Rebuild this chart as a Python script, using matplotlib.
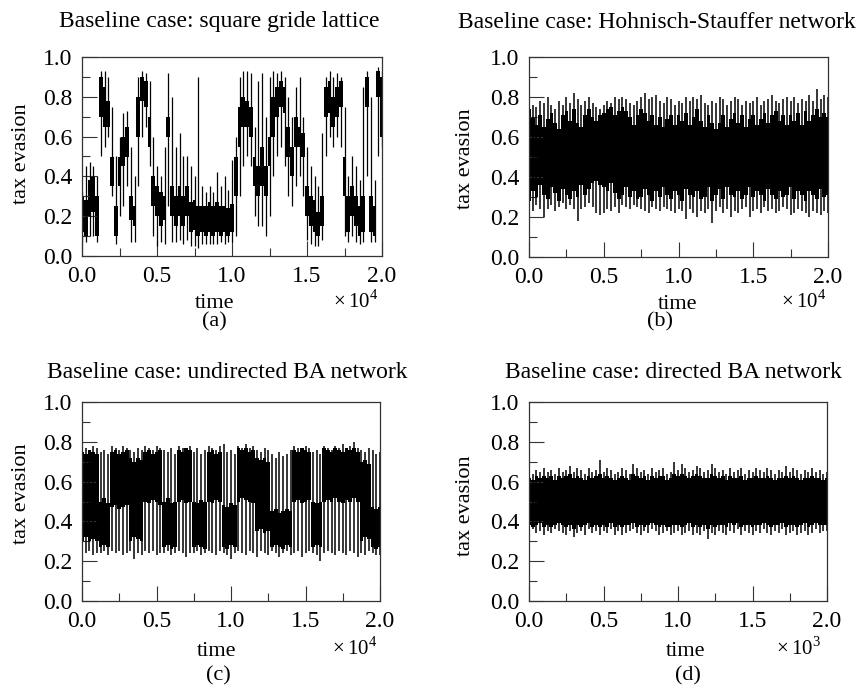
import numpy as np
import matplotlib
matplotlib.use('Agg')
import matplotlib.pyplot as plt

matplotlib.rcParams['font.family'] = 'Liberation Serif'
matplotlib.rcParams['mathtext.fontset'] = 'custom'
matplotlib.rcParams['mathtext.rm'] = 'Liberation Serif'

# sample times (every 250 steps for a-c, every 25 steps for d)
t_long = np.arange(0, 20001, 250)
t_short = np.arange(0, 2001, 25)

# (a) square grid lattice: dense band and extreme strokes
a_core_lo = [0.12, 0.10, 0.20, 0.22, 0.10, 0.70, 0.65, 0.65, 0.35, 0.10,
             0.35, 0.45, 0.50, 0.18, 0.15, 0.60, 0.78, 0.75, 0.55, 0.25,
             0.20, 0.15, 0.18, 0.60, 0.20, 0.15, 0.20, 0.15, 0.20, 0.12,
             0.13, 0.10, 0.12, 0.10, 0.12, 0.10, 0.12, 0.10, 0.12, 0.10,
             0.12, 0.30, 0.55, 0.65, 0.65, 0.60, 0.35, 0.30, 0.35, 0.30,
             0.45, 0.60, 0.70, 0.75, 0.72, 0.50, 0.40, 0.55, 0.55, 0.50,
             0.20, 0.15, 0.12, 0.10, 0.15, 0.70, 0.72, 0.65, 0.70, 0.75,
             0.30, 0.12, 0.20, 0.15, 0.10, 0.12, 0.75, 0.12, 0.10, 0.80,
             0.60]
a_core_hi = [0.30, 0.28, 0.38, 0.40, 0.30, 0.90, 0.85, 0.78, 0.50, 0.25,
             0.50, 0.60, 0.65, 0.30, 0.25, 0.80, 0.90, 0.88, 0.70, 0.40,
             0.35, 0.32, 0.30, 0.70, 0.35, 0.30, 0.35, 0.30, 0.35, 0.27,
             0.28, 0.25, 0.25, 0.25, 0.27, 0.25, 0.27, 0.25, 0.25, 0.24,
             0.26, 0.50, 0.75, 0.80, 0.78, 0.75, 0.50, 0.45, 0.55, 0.45,
             0.60, 0.80, 0.85, 0.88, 0.85, 0.65, 0.55, 0.70, 0.65, 0.62,
             0.35, 0.30, 0.28, 0.22, 0.30, 0.85, 0.88, 0.80, 0.85, 0.88,
             0.50, 0.30, 0.35, 0.30, 0.25, 0.30, 0.90, 0.30, 0.25, 0.93,
             0.90]
a_lo = [0.07, 0.07, 0.10, 0.10, 0.07, 0.50, 0.55, 0.60, 0.30, 0.06,
        0.20, 0.25, 0.35, 0.07, 0.07, 0.35, 0.60, 0.65, 0.45, 0.10,
        0.05, 0.07, 0.06, 0.25, 0.07, 0.07, 0.08, 0.06, 0.08, 0.05,
        0.05, 0.04, 0.06, 0.06, 0.06, 0.06, 0.06, 0.07, 0.06, 0.07,
        0.07, 0.10, 0.30, 0.45, 0.50, 0.45, 0.20, 0.15, 0.15, 0.10,
        0.20, 0.40, 0.50, 0.55, 0.45, 0.30, 0.25, 0.35, 0.40, 0.30,
        0.08, 0.06, 0.05, 0.05, 0.08, 0.50, 0.60, 0.55, 0.60, 0.55,
        0.10, 0.07, 0.10, 0.07, 0.06, 0.07, 0.40, 0.07, 0.07, 0.50,
        0.55]
a_hi = [0.32, 0.45, 0.47, 0.45, 0.40, 0.93, 0.93, 0.90, 0.75, 0.50,
        0.60, 0.72, 0.73, 0.55, 0.40, 0.90, 0.93, 0.92, 0.88, 0.60,
        0.45, 0.40, 0.55, 0.92, 0.80, 0.55, 0.62, 0.50, 0.50, 0.45,
        0.40, 0.90, 0.35, 0.32, 0.35, 0.32, 0.42, 0.35, 0.40, 0.33,
        0.48, 0.60, 0.90, 0.93, 0.93, 0.92, 0.65, 0.88, 0.92, 0.70,
        0.90, 0.93, 0.92, 0.93, 0.90, 0.80, 0.70, 0.85, 0.90, 0.70,
        0.55, 0.45, 0.40, 0.35, 0.62, 0.90, 0.93, 0.90, 0.92, 0.90,
        0.75, 0.40, 0.50, 0.45, 0.38, 0.85, 0.93, 0.80, 0.38, 0.95,
        0.93]

# (b) Hohnisch-Stauffer network
b_core_lo = [0.28, 0.33, 0.30, 0.36, 0.31, 0.29, 0.35, 0.32, 0.28, 0.34,
             0.31, 0.29, 0.33, 0.30, 0.36, 0.31, 0.34, 0.37, 0.38, 0.36,
             0.35, 0.33, 0.37, 0.32, 0.29, 0.31, 0.35, 0.30, 0.33, 0.29,
             0.30, 0.34, 0.31, 0.28, 0.33, 0.30, 0.35, 0.31, 0.29, 0.33,
             0.31, 0.28, 0.34, 0.31, 0.30, 0.33, 0.29, 0.30, 0.35, 0.28,
             0.31, 0.34, 0.29, 0.35, 0.31, 0.30, 0.33, 0.29, 0.31, 0.35,
             0.30, 0.33, 0.31, 0.28, 0.34, 0.31, 0.29, 0.33, 0.30, 0.31,
             0.35, 0.29, 0.33, 0.31, 0.28, 0.33, 0.31, 0.29, 0.34, 0.30,
             0.31]
b_core_hi = [0.74, 0.70, 0.66, 0.71, 0.65, 0.69, 0.72, 0.67, 0.64, 0.71,
             0.73, 0.68, 0.74, 0.67, 0.65, 0.71, 0.74, 0.70, 0.68, 0.71,
             0.72, 0.74, 0.75, 0.71, 0.73, 0.75, 0.73, 0.70, 0.66, 0.71,
             0.74, 0.72, 0.68, 0.71, 0.66, 0.70, 0.65, 0.69, 0.71, 0.66,
             0.71, 0.68, 0.72, 0.66, 0.70, 0.74, 0.68, 0.65, 0.71, 0.67,
             0.64, 0.67, 0.71, 0.65, 0.69, 0.72, 0.67, 0.71, 0.65, 0.69,
             0.71, 0.66, 0.69, 0.72, 0.67, 0.71, 0.73, 0.68, 0.71, 0.66,
             0.71, 0.68, 0.72, 0.66, 0.73, 0.68, 0.71, 0.74, 0.70, 0.72,
             0.70]
b_lo = [0.25, 0.23, 0.26, 0.24, 0.20, 0.24, 0.26, 0.23, 0.25, 0.27,
        0.24, 0.26, 0.24, 0.18, 0.24, 0.25, 0.27, 0.25, 0.22, 0.21,
        0.22, 0.24, 0.23, 0.25, 0.22, 0.26, 0.25, 0.24, 0.26, 0.25,
        0.24, 0.23, 0.22, 0.25, 0.24, 0.23, 0.25, 0.24, 0.23, 0.22,
        0.24, 0.23, 0.19, 0.24, 0.22, 0.20, 0.23, 0.22, 0.24, 0.17,
        0.23, 0.25, 0.22, 0.24, 0.20, 0.23, 0.22, 0.24, 0.25, 0.20,
        0.23, 0.24, 0.22, 0.25, 0.23, 0.24, 0.22, 0.23, 0.25, 0.24,
        0.21, 0.22, 0.24, 0.23, 0.22, 0.20, 0.23, 0.22, 0.21, 0.23,
        0.22]
b_hi = [0.78, 0.76, 0.75, 0.78, 0.77, 0.80, 0.76, 0.74, 0.78, 0.76,
        0.80, 0.77, 0.82, 0.79, 0.76, 0.78, 0.80, 0.77, 0.75, 0.74,
        0.76, 0.78, 0.77, 0.80, 0.79, 0.80, 0.79, 0.77, 0.76, 0.78,
        0.80, 0.82, 0.79, 0.80, 0.81, 0.78, 0.77, 0.80, 0.79, 0.76,
        0.78, 0.77, 0.80, 0.78, 0.80, 0.79, 0.81, 0.77, 0.76, 0.78,
        0.77, 0.80, 0.79, 0.76, 0.78, 0.80, 0.79, 0.76, 0.78, 0.77,
        0.78, 0.80, 0.76, 0.78, 0.79, 0.81, 0.78, 0.77, 0.79, 0.80,
        0.78, 0.80, 0.77, 0.79, 0.78, 0.81, 0.78, 0.84, 0.79, 0.81,
        0.80]

# (c) undirected BA network: switching between a high and a low band
c_core_lo = [0.30, 0.32, 0.30, 0.31, 0.30, 0.27, 0.28, 0.27, 0.47, 0.48,
             0.46, 0.47, 0.48, 0.30, 0.32, 0.31, 0.30, 0.50, 0.49, 0.51,
             0.50, 0.48, 0.27, 0.28, 0.26, 0.27, 0.50, 0.51, 0.49, 0.50,
             0.27, 0.28, 0.27, 0.26, 0.50, 0.49, 0.51, 0.50, 0.27, 0.26,
             0.28, 0.27, 0.50, 0.52, 0.51, 0.50, 0.49, 0.35, 0.36, 0.34,
             0.35, 0.27, 0.28, 0.27, 0.26, 0.28, 0.27, 0.50, 0.51, 0.49,
             0.50, 0.51, 0.27, 0.28, 0.27, 0.50, 0.51, 0.50, 0.52, 0.50,
             0.49, 0.51, 0.50, 0.52, 0.50, 0.30, 0.32, 0.31, 0.27, 0.26,
             0.27]
c_core_hi = [0.75, 0.74, 0.76, 0.75, 0.74, 0.50, 0.52, 0.49, 0.75, 0.76,
             0.74, 0.75, 0.76, 0.72, 0.70, 0.72, 0.71, 0.75, 0.76, 0.74,
             0.75, 0.76, 0.50, 0.52, 0.49, 0.50, 0.76, 0.75, 0.77, 0.76,
             0.50, 0.49, 0.51, 0.50, 0.75, 0.76, 0.74, 0.75, 0.48, 0.47,
             0.49, 0.48, 0.77, 0.76, 0.77, 0.75, 0.76, 0.72, 0.71, 0.72,
             0.70, 0.45, 0.46, 0.44, 0.45, 0.46, 0.45, 0.76, 0.75, 0.77,
             0.76, 0.75, 0.50, 0.49, 0.50, 0.77, 0.76, 0.75, 0.77, 0.76,
             0.75, 0.77, 0.76, 0.77, 0.75, 0.70, 0.71, 0.69, 0.47, 0.46,
             0.47]
c_lo = [0.22, 0.24, 0.25, 0.23, 0.24, 0.24, 0.25, 0.23, 0.25, 0.24,
        0.25, 0.23, 0.24, 0.25, 0.21, 0.24, 0.23, 0.25, 0.24, 0.25,
        0.23, 0.24, 0.24, 0.25, 0.23, 0.24, 0.25, 0.24, 0.22, 0.24,
        0.24, 0.25, 0.23, 0.24, 0.25, 0.24, 0.23, 0.25, 0.24, 0.23,
        0.21, 0.24, 0.25, 0.24, 0.23, 0.25, 0.24, 0.22, 0.25, 0.24,
        0.23, 0.25, 0.24, 0.22, 0.24, 0.25, 0.23, 0.24, 0.25, 0.22,
        0.24, 0.25, 0.24, 0.23, 0.20, 0.24, 0.25, 0.24, 0.23, 0.25,
        0.24, 0.23, 0.25, 0.24, 0.22, 0.24, 0.23, 0.25, 0.24, 0.23,
        0.23]
c_hi = [0.78, 0.77, 0.76, 0.78, 0.77, 0.75, 0.76, 0.74, 0.78, 0.77,
        0.76, 0.78, 0.77, 0.76, 0.75, 0.77, 0.76, 0.78, 0.77, 0.76,
        0.78, 0.77, 0.76, 0.75, 0.77, 0.74, 0.78, 0.77, 0.76, 0.78,
        0.75, 0.77, 0.74, 0.76, 0.78, 0.77, 0.76, 0.78, 0.79, 0.75,
        0.76, 0.74, 0.78, 0.77, 0.79, 0.77, 0.78, 0.76, 0.75, 0.77,
        0.76, 0.74, 0.72, 0.75, 0.73, 0.74, 0.76, 0.78, 0.77, 0.76,
        0.78, 0.77, 0.75, 0.76, 0.74, 0.78, 0.77, 0.76, 0.78, 0.77,
        0.79, 0.77, 0.78, 0.80, 0.77, 0.76, 0.75, 0.77, 0.76, 0.74,
        0.75]

# (d) directed BA network (time in units of 1e3)
d_core_lo = [0.38, 0.37, 0.38, 0.39, 0.37, 0.38, 0.37, 0.38, 0.39, 0.38,
             0.37, 0.38, 0.36, 0.38, 0.37, 0.38, 0.39, 0.37, 0.38, 0.37,
             0.38, 0.37, 0.39, 0.37, 0.38, 0.37, 0.38, 0.38, 0.39, 0.37,
             0.38, 0.37, 0.38, 0.39, 0.38, 0.37, 0.38, 0.37, 0.37, 0.38,
             0.38, 0.37, 0.38, 0.39, 0.37, 0.38, 0.37, 0.38, 0.36, 0.38,
             0.37, 0.38, 0.38, 0.37, 0.39, 0.38, 0.39, 0.37, 0.38, 0.38,
             0.37, 0.38, 0.38, 0.39, 0.38, 0.37, 0.38, 0.38, 0.39, 0.37,
             0.38, 0.38, 0.37, 0.38, 0.39, 0.37, 0.38, 0.39, 0.38, 0.38,
             0.38]
d_core_hi = [0.62, 0.61, 0.63, 0.62, 0.63, 0.62, 0.63, 0.61, 0.63, 0.62,
             0.63, 0.64, 0.62, 0.63, 0.62, 0.61, 0.63, 0.62, 0.63, 0.64,
             0.62, 0.63, 0.62, 0.61, 0.62, 0.63, 0.62, 0.61, 0.64, 0.63,
             0.62, 0.63, 0.61, 0.63, 0.62, 0.63, 0.63, 0.61, 0.62, 0.64,
             0.63, 0.64, 0.63, 0.62, 0.63, 0.64, 0.63, 0.62, 0.62, 0.64,
             0.63, 0.62, 0.63, 0.61, 0.63, 0.62, 0.62, 0.63, 0.61, 0.62,
             0.62, 0.63, 0.62, 0.62, 0.63, 0.62, 0.61, 0.62, 0.62, 0.63,
             0.62, 0.63, 0.62, 0.61, 0.62, 0.62, 0.63, 0.62, 0.62, 0.61,
             0.62]
d_lo = [0.35, 0.36, 0.34, 0.35, 0.33, 0.35, 0.34, 0.36, 0.35, 0.34,
        0.33, 0.35, 0.32, 0.34, 0.35, 0.33, 0.36, 0.34, 0.35, 0.33,
        0.35, 0.34, 0.36, 0.33, 0.35, 0.33, 0.34, 0.35, 0.36, 0.34,
        0.33, 0.35, 0.34, 0.36, 0.35, 0.33, 0.34, 0.35, 0.33, 0.34,
        0.35, 0.33, 0.34, 0.35, 0.33, 0.34, 0.33, 0.35, 0.31, 0.34,
        0.33, 0.35, 0.34, 0.33, 0.35, 0.34, 0.36, 0.33, 0.35, 0.34,
        0.33, 0.35, 0.34, 0.36, 0.34, 0.33, 0.35, 0.34, 0.36, 0.33,
        0.34, 0.35, 0.33, 0.34, 0.35, 0.33, 0.34, 0.36, 0.34, 0.35,
        0.35]
d_hi = [0.65, 0.64, 0.66, 0.65, 0.67, 0.65, 0.66, 0.64, 0.67, 0.65,
        0.66, 0.68, 0.65, 0.67, 0.66, 0.64, 0.67, 0.65, 0.66, 0.71,
        0.65, 0.67, 0.66, 0.64, 0.65, 0.67, 0.66, 0.64, 0.69, 0.67,
        0.65, 0.66, 0.64, 0.67, 0.65, 0.66, 0.67, 0.64, 0.65, 0.70,
        0.66, 0.69, 0.67, 0.65, 0.66, 0.68, 0.67, 0.65, 0.66, 0.69,
        0.67, 0.65, 0.66, 0.64, 0.67, 0.65, 0.66, 0.67, 0.64, 0.66,
        0.65, 0.67, 0.66, 0.65, 0.67, 0.66, 0.64, 0.66, 0.65, 0.68,
        0.65, 0.67, 0.66, 0.64, 0.66, 0.65, 0.67, 0.65, 0.66, 0.64,
        0.65]

titles = ['Baseline case: square gride lattice',
          'Baseline case: Hohnisch-Stauffer network',
          'Baseline case: undirected BA network',
          'Baseline case: directed BA network']
panel_tags = ['(a)', '(b)', '(c)', '(d)']
exponents = ['4', '4', '4', '3']

W, H = 858, 686
fig = plt.figure(figsize=(W / 100, H / 100), dpi=100)


def px(x, y):
    return x / W, 1 - y / H


# axes boxes in pixels: left, top, right, bottom
boxes = [(82, 57, 382, 256), (529, 57, 828, 257),
         (82, 402, 380, 601), (529, 402, 827, 601)]
title_pos = [(219, 22), (657, 22), (227, 373), (673, 373)]
ylab_pos = [(22, 154), (465, 159), (22, 494), (465, 506)]
xlab_pos = [(215, 303), (678, 304), (217, 652), (686, 652)]
exp_pos = [(378, 302), (826, 302), (377, 648), (821, 648)]
tag_pos = [(214, 322), (660, 322), (218, 676), (688, 676)]
stroke_w = [0.9, 1.1, 1.1, 1.1]

series = [(t_long, a_core_lo, a_core_hi, a_lo, a_hi),
          (t_long, b_core_lo, b_core_hi, b_lo, b_hi),
          (t_long, c_core_lo, c_core_hi, c_lo, c_hi),
          (t_short, d_core_lo, d_core_hi, d_lo, d_hi)]

for i in range(4):
    l, tp, r, b = boxes[i]
    ax = fig.add_axes([l / W, 1 - b / H, (r - l) / W, (b - tp) / H])
    t, clo, chi, lo, hi = series[i]
    ax.fill_between(t, clo, chi, step='mid', color='black', lw=0)
    ax.vlines(t, lo, hi, color='black', lw=stroke_w[i])

    tmax = t[-1]
    ax.set_xlim(0, tmax)
    ax.set_ylim(0, 1)
    ax.set_xticks(np.linspace(0, tmax, 5))
    ax.set_xticklabels(['0.0', '0.5', '1.0', '1.5', '2.0'])
    ax.set_xticks(np.linspace(tmax / 8, tmax * 7 / 8, 4), minor=True)
    ax.set_yticks([0, 0.2, 0.4, 0.6, 0.8, 1.0])
    ax.set_yticklabels(['0.0', '0.2', '0.4', '0.6', '0.8', '1.0'])
    ax.set_yticks([0.1, 0.3, 0.5, 0.7, 0.9], minor=True)
    ax.tick_params(which='both', direction='in', top=False, right=False,
                   width=0.8, color='#333333', labelsize=17, pad=7)
    ax.tick_params(which='major', length=11)
    ax.tick_params(which='minor', length=5.5)
    for s in ax.spines.values():
        s.set_linewidth(0.9)
        s.set_color('#333333')

    fig.text(*px(*title_pos[i]), titles[i], fontsize=17, ha='center', va='center')
    fig.text(*px(*ylab_pos[i]), 'tax evasion', fontsize=16, rotation=90,
             ha='center', va='center')
    fig.text(*px(*xlab_pos[i]), 'time', fontsize=16, ha='center', va='center')
    fig.text(*px(*exp_pos[i]), r'$\times\,10^{%s}$' % exponents[i], fontsize=15,
             ha='right', va='center')
    fig.text(*px(*tag_pos[i]), panel_tags[i], fontsize=16, ha='center', va='center')

fig.savefig('out.png', dpi=100)
